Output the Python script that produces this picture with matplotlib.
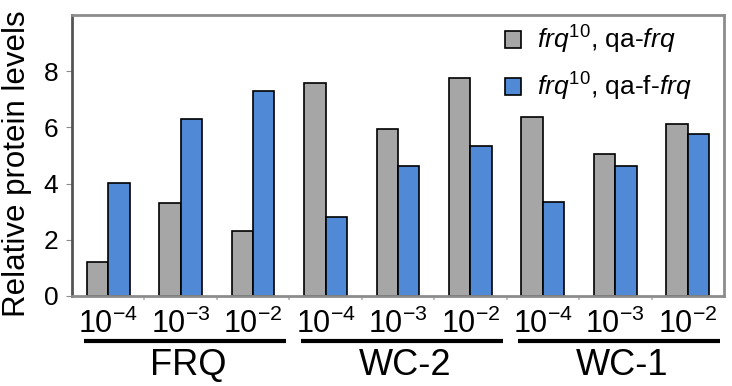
import numpy as np
import matplotlib
matplotlib.use("Agg")
import matplotlib.pyplot as plt
import matplotlib.transforms as mtransforms

plt.rcParams['font.family'] = ['Liberation Sans', 'DejaVu Sans']
plt.rcParams['mathtext.fontset'] = 'custom'
plt.rcParams['mathtext.rm'] = 'Liberation Sans'
plt.rcParams['mathtext.it'] = 'Liberation Sans:italic'

# data
groups = ['FRQ', 'WC-2', 'WC-1']
doses = [r'$\mathregular{10^{-4}}$', r'$\mathregular{10^{-3}}$', r'$\mathregular{10^{-2}}$']
qa_frq = [1.22, 3.31, 2.33, 7.58, 5.94, 7.77, 6.38, 5.07, 6.11]
qa_f_frq = [4.01, 6.29, 7.31, 2.81, 4.63, 5.35, 3.33, 4.61, 5.75]
series_labels = [r'$\it{frq}^{10}$, qa-$\it{frq}$', r'$\it{frq}^{10}$, qa-f-$\it{frq}$']

gray = '#a6a6a6'
blue = '#5089d5'
spine_col = '#8c8c8c'

fig = plt.figure(figsize=(7.32, 3.86), dpi=100)
ax = fig.add_axes([0.0984, 0.2332, 0.8906, 0.7278])

x = np.arange(len(qa_frq))
w = 0.295
ax.bar(x - w / 2, qa_frq, w, color=gray, edgecolor='black', linewidth=1.2, label=series_labels[0])
ax.bar(x + w / 2, qa_f_frq, w, color=blue, edgecolor='black', linewidth=1.2, label=series_labels[1])

ax.set_xlim(-0.5, len(x) - 0.5)
ax.set_ylim(0, 10)
ax.set_yticks([0, 2, 4, 6, 8])
ax.tick_params(axis='y', labelsize=19, length=4, color=spine_col, pad=6)

# x ticks at category boundaries, labels centered on categories
ax.set_xticks(np.arange(0.5, len(x) - 0.5, 1.0))
ax.set_xticklabels([])
ax.tick_params(axis='x', length=3, color='#c0c0c0', width=1.5)
for i in range(len(x)):
    ax.text(i, -0.045, doses[i % 3], transform=ax.get_xaxis_transform(),
            ha='center', va='top', fontsize=22)

for side in ['top', 'right', 'bottom']:
    ax.spines[side].set_color(spine_col)
    ax.spines[side].set_linewidth(2)
ax.spines['left'].set_color('#555555')
ax.spines['left'].set_linewidth(2)

ax.set_ylabel('Relative protein levels', fontsize=22.5)
ax.yaxis.set_label_coords(-0.062, 0.47)

# group underlines and names
trans = mtransforms.blended_transform_factory(ax.transData, ax.transAxes)
for g, name in enumerate(groups):
    x0 = g * 3 - 0.34
    x1 = g * 3 + 2.45
    ax.plot([x0, x1], [-0.16, -0.16], color='black', linewidth=3,
            transform=trans, clip_on=False, solid_capstyle='butt')
    ax.text(g * 3 + 1.1, -0.185, name, transform=trans, ha='center', va='top', fontsize=26)

ax.legend(loc='upper left', bbox_to_anchor=(0.648, 1.005), frameon=False, fontsize=19,
          handlelength=0.6, handleheight=0.6, handletextpad=0.6, labelspacing=0.55,
          borderaxespad=0.0)

fig.savefig('out.png', dpi=100)
